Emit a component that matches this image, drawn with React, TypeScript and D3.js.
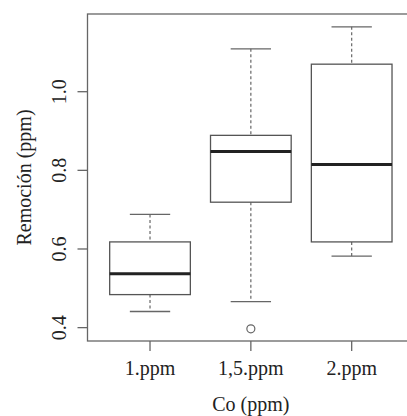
import React from "react";
import * as d3 from "d3";

const categories = ["1.ppm", "1,5.ppm", "2.ppm"];
const lowerWhisker = [0.441, 0.466, 0.582];
const q1 = [0.484, 0.719, 0.618];
const median = [0.537, 0.848, 0.815];
const q3 = [0.618, 0.889, 1.07];
const upperWhisker = [0.688, 1.109, 1.165];
const outliers: number[][] = [[], [0.397], []];
const yTicks = [0.4, 0.6, 0.8, 1.0];

const W = 407;
const H = 416;
const left = 87.5;
const right = 414.2;
const top = 14;
const bottom = 341;

export default function App() {
  const x = d3.scaleLinear().domain([0.38, 3.62]).range([left, right]);
  const y = d3.scaleLinear().domain([0.366, 1.1976]).range([bottom, top]);
  const font = "'Liberation Serif', 'Times New Roman', serif";
  const gray = "#666";
  const boxCol = "#555";
  return (
    <svg width={W} height={H} style={{ position: "absolute", left: 0, top: 0 }} fontFamily={font}>
      <rect x={0} y={0} width={W} height={H} fill="#fff" />
      {/* plot frame */}
      <rect x={left} y={top} width={right - left} height={bottom - top} fill="none" stroke={gray} strokeWidth={1.3} />
      {categories.map((c, i) => {
        const cx = x(i + 1);
        const bw = x(1.4) - x(1);
        const sw = x(1.2) - x(1);
        return (
          <g key={c}>
            <line x1={cx} x2={cx} y1={y(upperWhisker[i])} y2={y(q3[i])} stroke={gray} strokeWidth={1.2} strokeDasharray="3,2.5" />
            <line x1={cx} x2={cx} y1={y(q1[i])} y2={y(lowerWhisker[i])} stroke={gray} strokeWidth={1.2} strokeDasharray="3,2.5" />
            <line x1={cx - sw} x2={cx + sw} y1={y(upperWhisker[i])} y2={y(upperWhisker[i])} stroke={gray} strokeWidth={1.3} />
            <line x1={cx - sw} x2={cx + sw} y1={y(lowerWhisker[i])} y2={y(lowerWhisker[i])} stroke={gray} strokeWidth={1.3} />
            <rect x={cx - bw} y={y(q3[i])} width={2 * bw} height={y(q1[i]) - y(q3[i])} fill="#fff" stroke={boxCol} strokeWidth={1.3} />
            <line x1={cx - bw} x2={cx + bw} y1={y(median[i])} y2={y(median[i])} stroke="#222" strokeWidth={3} />
            {outliers[i].map((o, j) => (
              <circle key={j} cx={cx} cy={y(o)} r={4} fill="none" stroke={gray} strokeWidth={1.2} />
            ))}
            <line x1={cx} x2={cx} y1={bottom} y2={bottom + 10} stroke={gray} strokeWidth={1.3} />
            <text x={cx} y={375} textAnchor="middle" fontSize={20} fill="#222">{c}</text>
          </g>
        );
      })}
      {yTicks.map((t) => (
        <g key={t}>
          <line x1={left - 10} x2={left} y1={y(t)} y2={y(t)} stroke={gray} strokeWidth={1.3} />
          <text transform={`translate(66,${y(t)}) rotate(-90)`} textAnchor="middle" fontSize={20} fill="#222">
            {t.toFixed(1)}
          </text>
        </g>
      ))}
      <text transform={`translate(31,${(top + bottom) / 2}) rotate(-90)`} textAnchor="middle" fontSize={20} fill="#222">
        Remoción (ppm)
      </text>
      <text x={(left + right) / 2} y={411} textAnchor="middle" fontSize={20} fill="#222">
        Co (ppm)
      </text>
    </svg>
  );
}
